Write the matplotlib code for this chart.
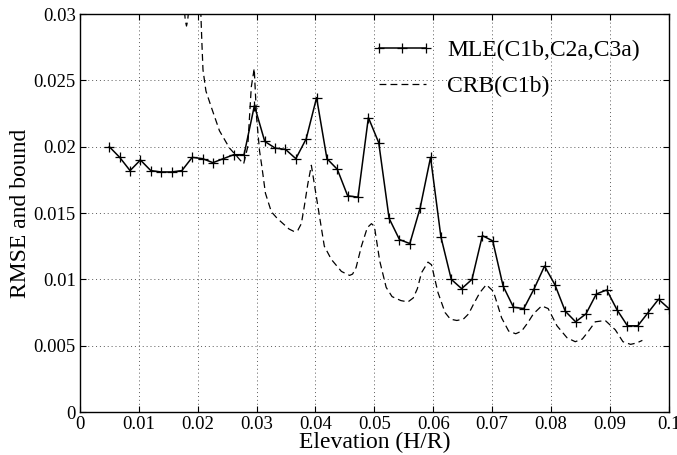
import matplotlib
matplotlib.use("Agg")
import matplotlib.pyplot as plt
import numpy as np

plt.rcParams['font.family'] = ['Liberation Serif', 'DejaVu Serif']

# elevation grid of the simulation runs (H/R)
elev = np.linspace(0.005, 0.1, 55)

# RMSE of the MLE estimator
rmse_mle = [0.0200, 0.0192, 0.0182, 0.0190, 0.0182, 0.0181, 0.0181, 0.0182, 0.0192, 0.0191,
            0.0188, 0.0191, 0.0194, 0.0194, 0.0231, 0.0204, 0.0199, 0.0198, 0.0191, 0.0206,
            0.0237, 0.0191, 0.0183, 0.0163, 0.0162, 0.0222, 0.0203, 0.0146, 0.0130, 0.0127,
            0.0154, 0.0192, 0.0132, 0.0100, 0.0093, 0.0100, 0.0133, 0.0129, 0.0095, 0.0079,
            0.0078, 0.0093, 0.0110, 0.0096, 0.0076, 0.0068, 0.0074, 0.0089, 0.0092, 0.0077,
            0.0065, 0.0065, 0.0075, 0.0085, 0.0078]

# Cramer-Rao bound (finer grid)
crb_x = [0.0176, 0.0179, 0.0181, 0.0183, 0.0186, 0.0195, 0.0205, 0.0207, 0.0209, 0.0214,
         0.0223, 0.0237, 0.0254, 0.0268, 0.0278, 0.0285, 0.0291, 0.0296, 0.0300, 0.0305,
         0.0309, 0.0315, 0.0325, 0.0335, 0.0345, 0.0355, 0.0364, 0.0370, 0.0376, 0.0381,
         0.0387, 0.0393, 0.0398, 0.0407, 0.0415, 0.0427, 0.0444, 0.0453, 0.0458, 0.0463,
         0.0469, 0.0478, 0.0488, 0.0495, 0.0500, 0.0509, 0.0520, 0.0530, 0.0545, 0.0557,
         0.0566, 0.0573, 0.0580, 0.0591, 0.0597, 0.0608, 0.0620, 0.0629, 0.0640, 0.0651,
         0.0660, 0.0668, 0.0679, 0.0690, 0.0702, 0.0716, 0.0728, 0.0740, 0.0750, 0.0760,
         0.0770, 0.0784, 0.0795, 0.0810, 0.0827, 0.0841, 0.0853, 0.0862, 0.0875, 0.0892,
         0.0909, 0.0922, 0.0935, 0.0945, 0.0955]
crb_y = [0.0310, 0.0295, 0.0291, 0.0295, 0.0310, 0.0400, 0.0305, 0.0280, 0.0258, 0.0242,
         0.0230, 0.0212, 0.0199, 0.0192, 0.0187, 0.0200, 0.0245, 0.0259, 0.0222, 0.0197,
         0.0185, 0.0165, 0.0151, 0.0146, 0.0142, 0.0138, 0.0136, 0.0137, 0.0142, 0.0155,
         0.0172, 0.0186, 0.0172, 0.0147, 0.0125, 0.0115, 0.0106, 0.0104, 0.0103, 0.0104,
         0.0109, 0.0125, 0.0139, 0.0142, 0.0140, 0.0114, 0.0094, 0.0087, 0.0084, 0.0083,
         0.0086, 0.0093, 0.0105, 0.0113, 0.0111, 0.0090, 0.0075, 0.0070, 0.0069, 0.0070,
         0.0074, 0.0081, 0.0090, 0.0096, 0.0091, 0.0071, 0.0061, 0.0059, 0.0061, 0.0067,
         0.0074, 0.0080, 0.0078, 0.0065, 0.0056, 0.0053, 0.0055, 0.0060, 0.0068, 0.0069,
         0.0062, 0.0053, 0.0051, 0.0052, 0.0054]

xticks = [0, 0.01, 0.02, 0.03, 0.04, 0.05, 0.06, 0.07, 0.08, 0.09, 0.1]
xticklabels = ['0', '0.01', '0.02', '0.03', '0.04', '0.05', '0.06', '0.07', '0.08', '0.09', '0.1']
yticks = [0, 0.005, 0.01, 0.015, 0.02, 0.025, 0.03]
yticklabels = ['0', '0.005', '0.01', '0.015', '0.02', '0.025', '0.03']

fig = plt.figure(figsize=(6.77, 4.55), dpi=100)
ax = fig.add_axes([0.118, 0.0945, 0.870, 0.8745])

ax.plot(elev, rmse_mle, 'k-', marker='+', markersize=7.5, markeredgewidth=0.9,
        linewidth=1.1, label='MLE(C1b,C2a,C3a)')
ax.plot(crb_x, crb_y, color='k', linestyle=(0, (5.5, 3.3)), linewidth=0.9,
        label='CRB(C1b)')

ax.set_xlim(0, 0.1)
ax.set_ylim(0, 0.03)
ax.set_xticks(xticks)
ax.set_xticklabels(xticklabels)
ax.set_yticks(yticks)
ax.set_yticklabels(yticklabels)
ax.tick_params(direction='in', top=True, right=True, length=4, width=0.8,
               labelsize=13.5, pad=3)

ax.grid(True, color='0.35', linestyle=(0, (1, 3)), linewidth=0.7)
for s in ax.spines.values():
    s.set_linewidth(1.0)

ax.set_xlabel('Elevation (H/R)', fontsize=17, labelpad=-1)
ax.set_ylabel('RMSE and bound', fontsize=17, labelpad=2)

ax.legend(loc='upper left', bbox_to_anchor=(0.495, 0.935), frameon=False,
          borderpad=0, borderaxespad=0,
          fontsize=17, numpoints=3, handlelength=2.6, handletextpad=0.6,
          labelspacing=0.6)

fig.savefig('out.png', dpi=100)
